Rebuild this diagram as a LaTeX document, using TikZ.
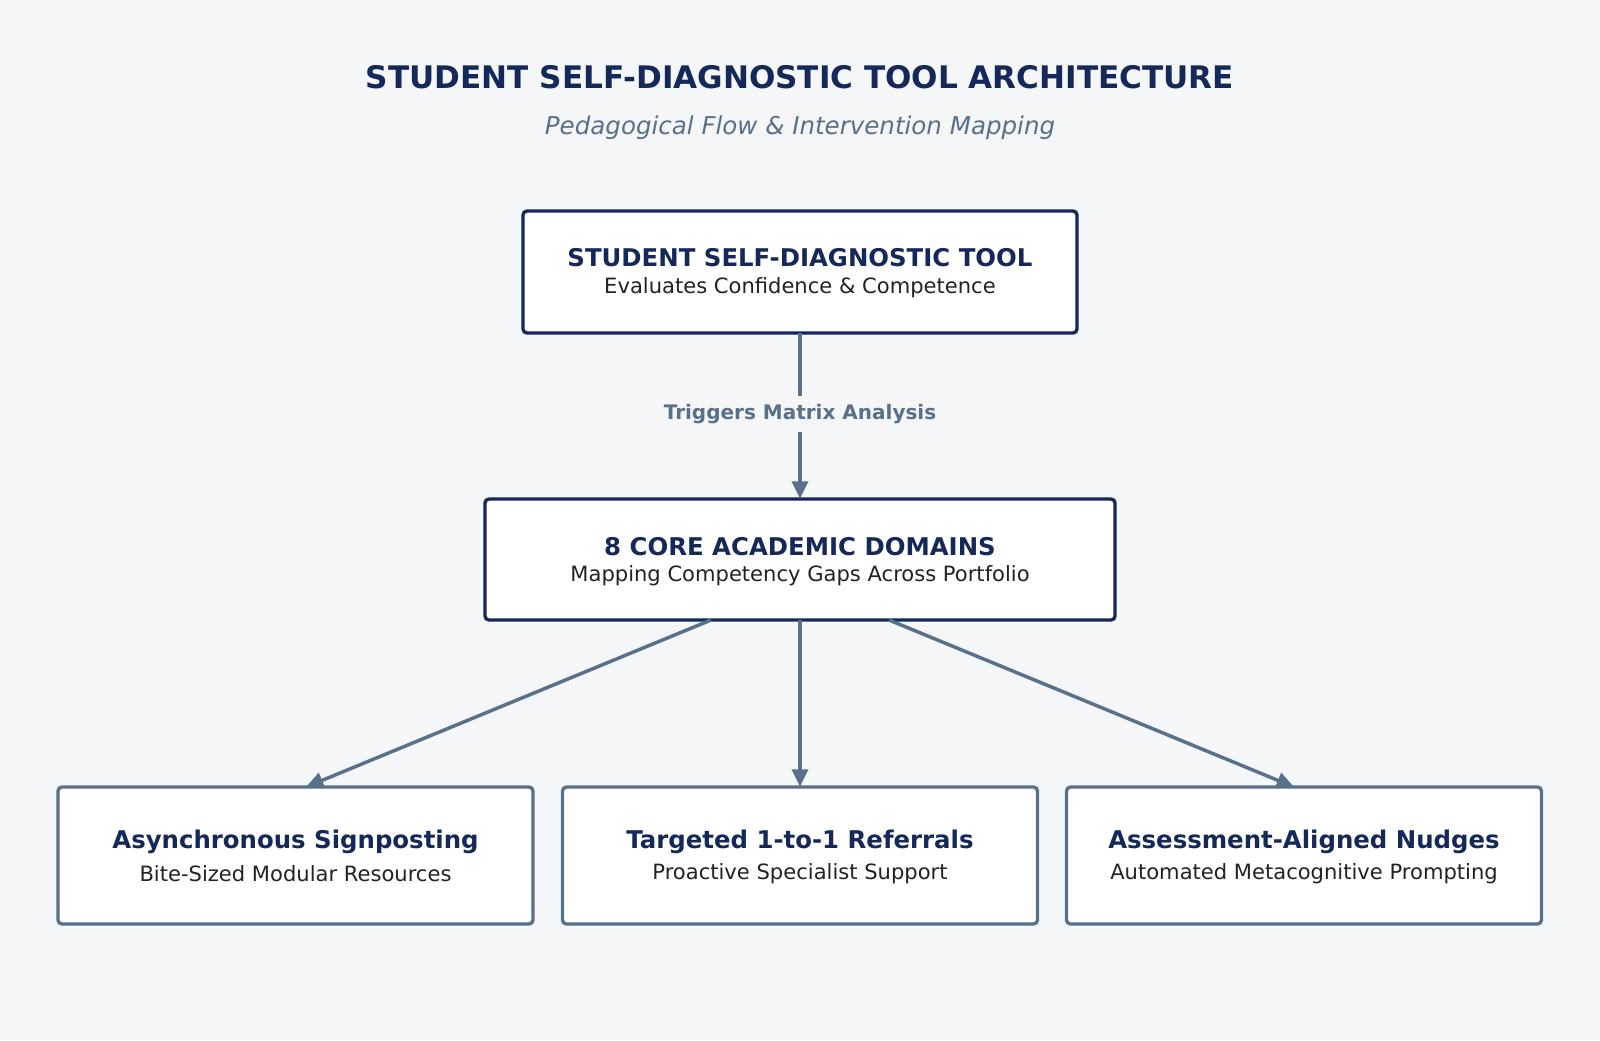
\documentclass[tikz,border=0pt]{standalone}
\usepackage{fontspec}
\setmainfont{DejaVu Sans}
\usetikzlibrary{arrows.meta}
\definecolor{navy}{HTML}{14285A}
\definecolor{slate}{HTML}{587089}
\definecolor{bg}{HTML}{F4F6F8}
\definecolor{txt}{HTML}{222222}
\begin{document}
\begin{tikzpicture}[x=0.75pt,y=-0.75pt,
  box/.style={draw=#1,line width=2.5pt,fill=white,rounded corners=3pt},
  ttl/.style={text=navy,font=\bfseries\fontsize{18.3}{21}\selectfont},
  sub/.style={text=txt,font=\fontsize{15.8}{18}\selectfont},
  arr/.style={draw=slate,line width=2.6pt,-{Triangle[length=13pt,width=12pt]}}]
\fill[bg] (0,0) rectangle (1600,1040);
\useasboundingbox (0,0) rectangle (1600,1040);
\node[text=navy,font=\bfseries\fontsize{23.3}{27}\selectfont] (title) at (800,77) {STUDENT SELF-DIAGNOSTIC TOOL ARCHITECTURE};
\node[text=slate,font=\itshape\fontsize{18.4}{21}\selectfont] (subtitle) at (800,128) {Pedagogical Flow \& Intervention Mapping};
\draw[box=navy] (523,211) rectangle (1077,333);
\node (b1) at (800,272) [minimum width=554*0.75pt,minimum height=122*0.75pt] {};
\node[ttl] (b1t) at (800,258) {STUDENT SELF-DIAGNOSTIC TOOL};
\node[sub] (b1s) at (800,288) {Evaluates Confidence \& Competence};
\draw[box=navy] (485,499) rectangle (1115,620);
\node (b2) at (800,559.5) [minimum width=630*0.75pt,minimum height=121*0.75pt,inner sep=0] {};
\node[ttl] (b2t) at (800,547) {8 CORE ACADEMIC DOMAINS};
\node[sub] (b2s) at (800,576) {Mapping Competency Gaps Across Portfolio};
\foreach \n/\x/\t/\s in {c1/295.5/Asynchronous Signposting/Bite-Sized Modular Resources,
  c2/800/Targeted 1-to-1 Referrals/Proactive Specialist Support,
  c3/1304/Assessment-Aligned Nudges/Automated Metacognitive Prompting}{
  \draw[box=slate] (\x-237.5,787) rectangle (\x+237.5,924);
  \node (\n) at (\x,855.5) [minimum width=475*0.75pt,minimum height=137*0.75pt,inner sep=0] {};
  \node[ttl] at (\x,842) {\t};
  \node[sub] at (\x,874) {\s};
}
\node[text=slate,font=\bfseries\fontsize{15}{17}\selectfont,fill=bg,inner sep=6pt] (lab) at (800,414) {Triggers Matrix Analysis};
\draw[draw=slate,line width=2.6pt] (b1.south) -- (lab.north);
\draw[arr] (lab.south) -- (b2.north);
\coordinate (o1) at (711,620); \coordinate (o3) at (889,620);
\coordinate (e1) at (306,787); \coordinate (e3) at (1294,787);
\draw[arr] (o1) -- (e1);
\draw[arr] (b2.south) -- (c2.north);
\draw[arr] (o3) -- (e3);
\end{tikzpicture}
\end{document}
